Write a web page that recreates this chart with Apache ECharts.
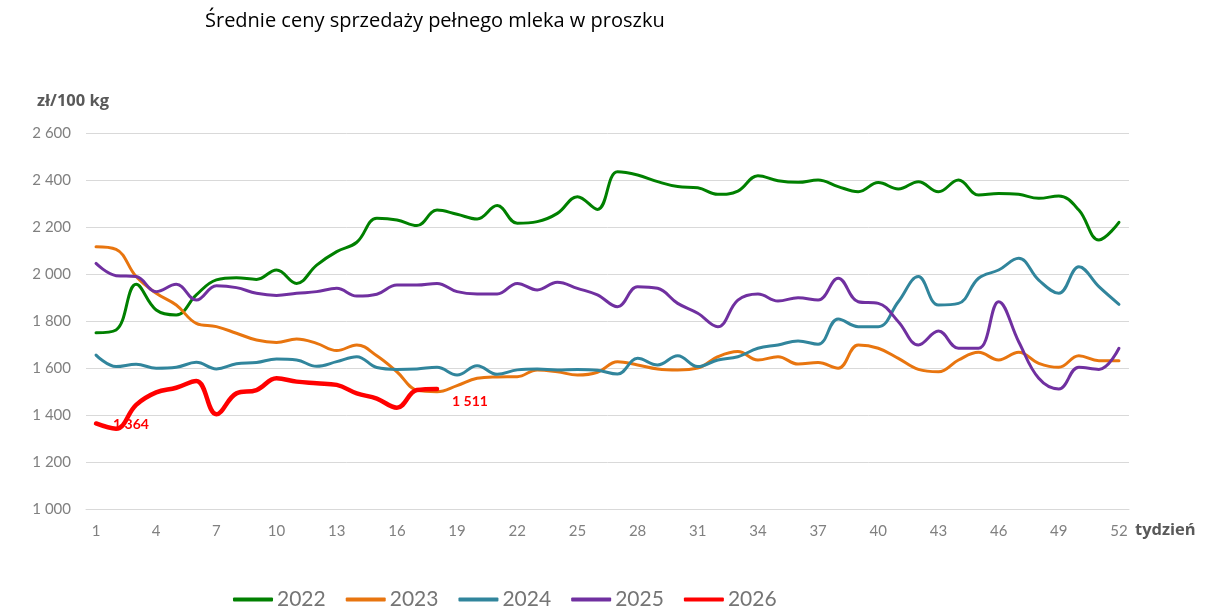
<!DOCTYPE html>
<html>
<head>
<meta charset="utf-8">
<script src="https://cdn.jsdelivr.net/npm/echarts@6/dist/echarts.min.js"></script>
<style>
html,body{margin:0;padding:0;background:#fff;}
#chart{width:1206px;height:611px;}
</style>
</head>
<body>
<div id="chart"></div>
<script>
const weeks = Array.from({length: 52}, (_, i) => String(i + 1));
const seriesNames = ['2022', '2023', '2024', '2025', '2026'];
const v2022 = [1750,1762,1956,1847,1826,1911,1975,1984,1977,2017,1960,2038,2095,2135,2237,2230,2206,2272,2254,2234,2291,2216,2223,2258,2329,2275,2435,2421,2393,2372,2367,2339,2353,2418,2397,2390,2400,2372,2350,2389,2362,2393,2350,2400,2336,2343,2339,2322,2332,2272,2145,2220];
const v2023 = [2116,2105,1989,1918,1868,1790,1776,1748,1719,1709,1723,1705,1674,1698,1652,1584,1506,1499,1525,1556,1562,1563,1592,1584,1570,1582,1627,1613,1596,1592,1600,1648,1670,1634,1648,1617,1623,1599,1698,1684,1641,1594,1584,1634,1667,1634,1667,1620,1603,1652,1631,1631];
const v2024 = [1655,1606,1616,1599,1603,1624,1596,1618,1623,1638,1634,1607,1627,1648,1602,1594,1596,1603,1570,1610,1573,1592,1596,1592,1594,1590,1574,1641,1613,1652,1606,1634,1648,1684,1698,1715,1701,1809,1776,1776,1882,1989,1868,1875,1982,2017,2067,1974,1918,2031,1946,1871];
const v2025 = [2045,1993,1989,1925,1956,1889,1950,1942,1918,1909,1918,1925,1939,1906,1914,1953,1953,1960,1925,1915,1915,1960,1932,1965,1939,1911,1861,1946,1939,1875,1833,1776,1889,1915,1885,1899,1889,1982,1882,1875,1797,1698,1757,1684,1684,1882,1712,1556,1511,1603,1594,1684];
const v2026 = [1364,1342,1443,1496,1516,1545,1403,1492,1506,1556,1542,1535,1528,1492,1470,1431,1506,1511];
const colors = ['#008000', '#E8750F', '#31859C', '#7030A0', '#FF0000'];
const allValues = [v2022, v2023, v2024, v2025, v2026];

const FONT = 'Lato, "Open Sans", sans-serif';
const BFONT = '"Open Sans", Lato, sans-serif';
function fmt(n){ return String(n).replace(/\B(?=(\d{3})+(?!\d))/g, ' '); }

const labelIdx = [0, v2026.length - 1];
const labelOffsets = [[12, 1], [10, 13]];

const series = seriesNames.map((name, si) => {
  const vals = allValues[si];
  const isLast = si === 4;
  let data = vals;
  if (isLast) {
    data = vals.map((v, i) => {
      const k = labelIdx.indexOf(i);
      if (k < 0) return v;
      return {
        value: v,
        label: {
          show: true, position: 'right', offset: labelOffsets[k],
          formatter: p => fmt(p.value), color: '#FF0000',
          fontWeight: 'bold', fontSize: 14, fontFamily: FONT
        }
      };
    });
  }
  return {
    name: name, type: 'line', data: data, smooth: 0.4,
    symbol: isLast ? 'circle' : 'none', symbolSize: 0, showSymbol: isLast, showAllSymbol: true,
    z: isLast ? 10 : 2 + si,
    lineStyle: {color: colors[si], width: isLast ? 4.5 : 3, cap: 'round', join: 'round'},
    itemStyle: {color: colors[si]},
    emphasis: {disabled: true}
  };
});

const chart = echarts.init(document.getElementById('chart'), null, {renderer: 'canvas'});
chart.setOption({
  animation: false,
  backgroundColor: '#fff',
  title: [
    {text: 'Średnie ceny sprzedaży pełnego mleka w proszku', left: 200, top: 6,
     textStyle: {fontFamily: BFONT, fontSize: 20, fontWeight: 'normal', color: '#000'}},
    {text: 'zł/100 kg', left: 32, top: 88,
     textStyle: {fontFamily: BFONT, fontSize: 16.5, fontWeight: 'bold', color: '#595959'}}
  ],
  legend: {
    top: 584, left: 228, itemWidth: 40, itemHeight: 4, itemGap: 20,
    icon: 'roundRect',
    textStyle: {fontFamily: FONT, fontSize: 21, color: '#757575', padding: [0,0,0,-1]},
    data: seriesNames
  },
  grid: {left: 86, right: 77, top: 133, bottom: 102, containLabel: false},
  xAxis: {
    type: 'category', data: weeks, boundaryGap: true,
    name: 'tydzień', nameLocation: 'end', nameGap: 6,
    nameTextStyle: {fontFamily: BFONT, fontSize: 16.5, fontWeight: 'bold', color: '#595959', verticalAlign: 'top', padding: [13,0,0,0]},
    axisLine: {show: true, lineStyle: {color: '#D9D9D9', width: 1}},
    axisTick: {show: false},
    axisLabel: {interval: 2, margin: 15, fontFamily: FONT, fontSize: 15, color: '#808080'},
    splitLine: {show: false}
  },
  yAxis: {
    type: 'value', min: 1000, max: 2600, interval: 200,
    axisLine: {show: false}, axisTick: {show: false},
    axisLabel: {margin: 15, fontFamily: FONT, fontSize: 15, color: '#808080', formatter: v => fmt(v)},
    splitLine: {lineStyle: {color: '#D9D9D9', width: 1}}
  },
  series: series
});
</script>
</body>
</html>
